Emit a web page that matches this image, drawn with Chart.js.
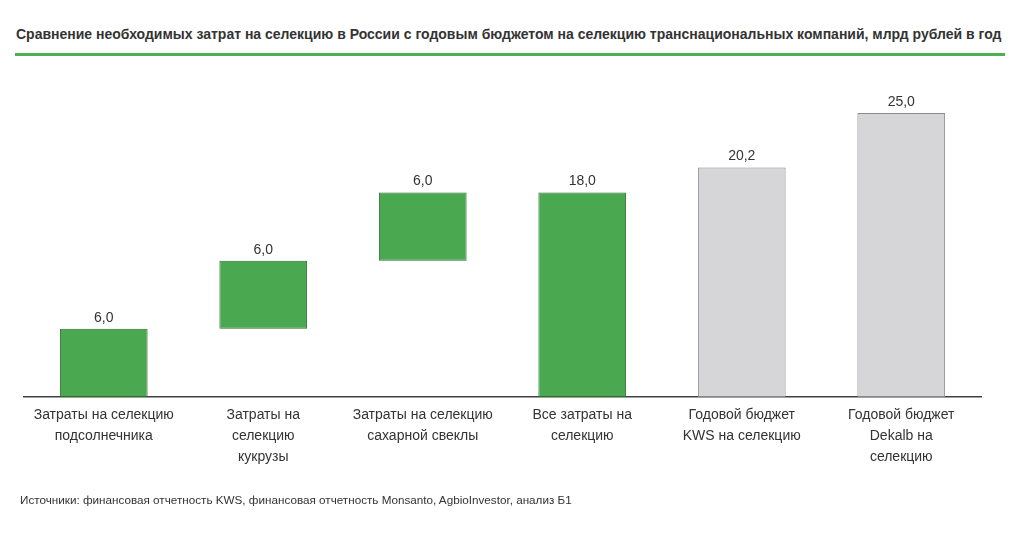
<!DOCTYPE html>
<html>
<head>
<meta charset="utf-8">
<title>Затраты на селекцию</title>
<script src="https://cdn.jsdelivr.net/npm/chart.js@4.4.1/dist/chart.umd.min.js"></script>
<style>
  html, body { margin: 0; padding: 0; background: #fff; }
  body { width: 1024px; height: 542px; position: relative; overflow: hidden; font-family: "Liberation Sans", Arial, sans-serif; color: #333; }
  #title { position: absolute; left: 16px; top: 26px; font-size: 14px; font-weight: bold; color: #333; white-space: nowrap; }
  #rule { position: absolute; left: 15px; top: 53px; width: 990px; height: 3px; background: #4caf50; }
  #source { position: absolute; left: 20px; top: 493px; font-size: 11.7px; color: #333; white-space: nowrap; }
  #wrap { position: absolute; left: 0; top: 0; width: 1024px; height: 542px; }
</style>
</head>
<body>
<div id="title">Сравнение необходимых затрат на селекцию в России с годовым бюджетом на селекцию транснациональных компаний, млрд рублей в год</div>
<div id="rule"></div>
<div id="wrap"><canvas id="c"></canvas></div>
<div id="source">Источники: финансовая отчетность KWS, финансовая отчетность Monsanto, AgbioInvestor, анализ Б1</div>
<script>
// категории (подписи оси X, по строкам)
const categories = [
  ["Затраты на селекцию", "подсолнечника"],
  ["Затраты на", "селекцию", "кукрузы"],
  ["Затраты на селекцию", "сахарной свеклы"],
  ["Все затраты на", "селекцию"],
  ["Годовой бюджет", "KWS на селекцию"],
  ["Годовой бюджет", "Dekalb на", "селекцию"]
];
// начало столбца (водопад) и величина
const starts = [0, 6, 12, 0, 0, 0];
const values = [6.0, 6.0, 6.0, 18.0, 20.2, 25.0];
const isBudget = [false, false, false, false, true, true];

const green = "#4aa850", greenBorder = "#2f6e33";
const grey = "#d6d6d8", greyBorder = "#8a8a8a";

const valueLabels = {
  id: "valueLabels",
  afterDatasetsDraw(chart) {
    const ctx = chart.ctx;
    const meta = chart.getDatasetMeta(0);
    ctx.save();
    ctx.font = "14px 'Liberation Sans', Arial, sans-serif";
    ctx.fillStyle = "#333";
    ctx.textAlign = "center";
    ctx.textBaseline = "bottom";
    meta.data.forEach((bar, i) => {
      ctx.fillText(values[i].toFixed(1).replace(".", ","), bar.x, bar.y - 4);
    });
    ctx.restore();
  }
};

new Chart(document.getElementById("c"), {
  type: "bar",
  data: {
    labels: categories,
    datasets: [{
      data: values.map((v, i) => [starts[i], starts[i] + v]),
      backgroundColor: isBudget.map(b => b ? grey : green),
      borderColor: isBudget.map(b => b ? greyBorder : greenBorder),
      borderWidth: 1,
      borderSkipped: false,
      barPercentage: 0.55,
      categoryPercentage: 1
    }]
  },
  options: {
    responsive: true,
    maintainAspectRatio: false,
    animation: false,
    layout: { padding: { left: 24, right: 43, top: 79, bottom: 0 } },
    plugins: { legend: { display: false }, tooltip: { enabled: false } },
    scales: {
      x: {
        grid: { display: false },
        border: { display: true, color: "#404040", width: 1.5 },
        ticks: {
          color: "#333",
          font: { family: "'Liberation Sans', Arial, sans-serif", size: 14, lineHeight: 1.5 },
          padding: 0,
          maxRotation: 0,
          autoSkip: false
        },
        afterFit(scale) { scale.height = 145; }
      },
      y: {
        display: false,
        min: 0,
        max: 28
      }
    }
  },
  plugins: [valueLabels]
});
</script>
</body>
</html>
